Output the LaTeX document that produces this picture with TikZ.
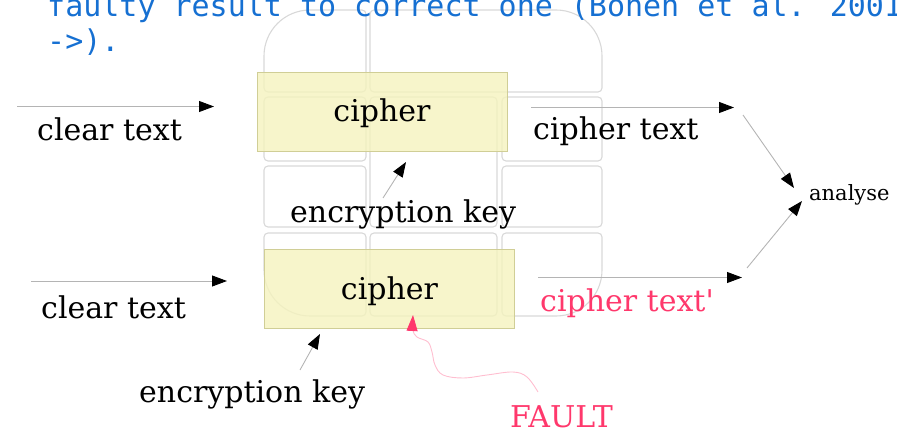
\documentclass[tikz,border=0pt]{standalone}
\usepackage{fontspec}
\setmainfont{DejaVu Serif}
\newfontfamily\codefont{DejaVu Sans Mono}
\usetikzlibrary{arrows.meta}

\definecolor{codeblue}{RGB}{22,112,210}
\definecolor{faultred}{RGB}{255,56,108}
\definecolor{faultpink}{RGB}{255,190,208}
\definecolor{gridgray}{RGB}{216,216,216}
\definecolor{linkgray}{RGB}{180,180,180}
\definecolor{boxfill}{RGB}{245,243,190}
\definecolor{boxline}{RGB}{208,206,150}

\begin{document}
\begin{tikzpicture}[x=1pt,y=-1pt,
  gridline/.style={draw=gridgray,line width=1.1pt},
  smallcell/.style={gridline,rounded corners=4pt},
  bigcorner/.style={gridline,rounded corners=46pt},
  cipherbox/.style={draw=boxline,fill=boxfill,fill opacity=0.8,text opacity=1,
    line width=0.8pt,minimum width=250pt,minimum height=79pt,inner sep=0pt,
    text height=26pt,text depth=5pt,font=\fontsize{30}{36}\selectfont},
  lbl/.style={inner sep=0pt,anchor=base west,font=\fontsize{30}{36}\selectfont},
  smalllbl/.style={inner sep=0pt,anchor=base west,font=\fontsize{21}{25}\selectfont},
  codetext/.style={inner sep=0pt,anchor=base west,text=codeblue,
    font=\codefont\fontsize{30}{35}\selectfont},
  link/.style={draw=linkgray,line width=0.9pt,
    -{Triangle[length=15pt,width=11pt,color=black]}},
  faultlink/.style={draw=faultpink,line width=0.9pt,
    -{Triangle[length=16pt,width=11pt,color=faultred]}}]

\useasboundingbox (0,0) rectangle (897,430);
\clip (0,0) rectangle (897,430);

% faint tile grid in the background
% column 1
\draw[smallcell] (314,10) -- (366,10) -- (366,92) -- (264,92) -- (264,60);
\draw[bigcorner] (264,60) -- (264,10) -- (314,10);
\draw[smallcell] (264,97) rectangle (366,161);
\draw[smallcell] (264,166) rectangle (366,227);
\draw[smallcell] (264,266) -- (264,233) -- (366,233) -- (366,316) -- (314,316);
\draw[bigcorner] (314,316) -- (264,316) -- (264,266);
% wide top tile over columns 2 and 3
\draw[smallcell] (552,10) -- (370,10) -- (370,92) -- (602,92) -- (602,60);
\draw[bigcorner] (602,60) -- (602,10) -- (552,10);
% column 2
\draw[smallcell] (370,97) rectangle (497,227);
\draw[smallcell] (370,233) rectangle (497,316);
% column 3
\draw[smallcell] (502,97) rectangle (602,161);
\draw[smallcell] (502,166) rectangle (602,227);
\draw[smallcell] (602,266) -- (602,233) -- (502,233) -- (502,316) -- (552,316);
\draw[bigcorner] (552,316) -- (602,316) -- (602,266);

% caption fragment
\node[codetext] (cap1) at (47,17) {faulty result to correct one (Bonen et al. 2001};
\node[codetext] (cap2) at (47,52) {->).};

% upper (correct) run
\node[cipherbox] (cipher1) at (382,111.5) {cipher};
\node[lbl] (clear1) at (37,141) {clear text};
\node[lbl] (ctext1) at (533,140) {cipher text};
\node[lbl] (key1) at (290,223) {encryption key};

% lower (faulty) run
\node[cipherbox] (cipher2) at (389.5,289) {cipher};
\node[lbl] (clear2) at (41,319) {clear text};
\node[lbl,text=faultred] (ctext2) at (540,312) {cipher text\textquotesingle};
\node[lbl] (key2) at (139,402) {encryption key};
\node[lbl,text=faultred] (fault) at (510,427) {FAULT};

\node[smalllbl] (analyse) at (809,201) {analyse};

% connector end points
\coordinate (in1a) at (17,106.5);
\coordinate (in1b) at (214,106.5);
\coordinate (out1a) at (531,107.5);
\coordinate (out1b) at (734,107.5);
\coordinate (an1a) at (743,115);
\coordinate (an1b) at (794,188);
\coordinate (in2a) at (31,281);
\coordinate (in2b) at (227,281);
\coordinate (out2a) at (538,277.5);
\coordinate (out2b) at (742,277.5);
\coordinate (an2a) at (747,268);
\coordinate (an2b) at (802,201);
\coordinate (k1a) at (383,198);
\coordinate (k1b) at (406,162);
\coordinate (k2a) at (300,370);
\coordinate (k2b) at (320,334);
\coordinate (fa) at (538,392);
\coordinate (fb) at (413,315);

\draw[link] (in1a) -- (in1b);
\draw[link] (out1a) -- (out1b);
\draw[link] (an1a) -- (an1b);
\draw[link] (in2a) -- (in2b);
\draw[link] (out2a) -- (out2b);
\draw[link] (an2a) -- (an2b);
\draw[link] (k1a) -- (k1b);
\draw[link] (k2a) -- (k2b);

% the injected fault
\draw[faultlink] plot[smooth,tension=0.6] coordinates
  {(fa) (527,377) (513,372) (487,375) (463,378) (443,375) (435,365)
   (432,352) (428,342) (417,337) (413,330) (fb)};
\end{tikzpicture}
\end{document}
